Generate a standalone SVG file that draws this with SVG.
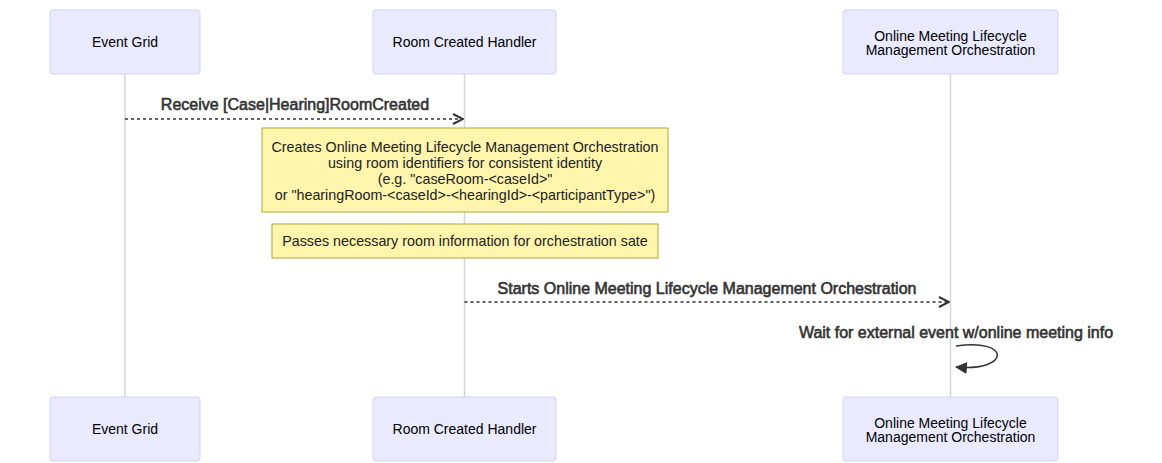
<svg xmlns="http://www.w3.org/2000/svg" width="1162" height="463" viewBox="0 0 1162 463">
<style>
.actor{fill:#eaeaff;stroke:#d3d3f5;stroke-width:1}
.atext{font-family:"Liberation Sans",Arial,sans-serif;font-size:14px;fill:#000;text-anchor:middle}
.life{stroke:#d6d6d6;stroke-width:1.5}
.msg{stroke:#333;stroke-width:1.5;fill:none;stroke-dasharray:3,3}
.mtext{font-family:"Liberation Sans",Arial,sans-serif;font-size:16px;fill:#333;stroke:#333;stroke-width:0.6;text-anchor:middle}
.note{fill:#fff5ad;stroke:#aaaa33;stroke-width:1}
.ntext{font-family:"Liberation Sans",Arial,sans-serif;font-size:14.3px;fill:#222;text-anchor:middle}
</style>
<defs>
<marker id="arrow" viewBox="0 0 12 12" refX="11" refY="6" markerWidth="12" markerHeight="12" markerUnits="userSpaceOnUse" orient="auto">
<path d="M1,1 L11,6 L1,11" fill="none" stroke="#333" stroke-width="2"/>
</marker>
<marker id="solidarrow" viewBox="0 0 12 12" refX="11" refY="6" markerWidth="12" markerHeight="12" markerUnits="userSpaceOnUse" orient="auto">
<path d="M0,0 L12,6 L0,12 z" fill="#333"/>
</marker>
</defs>
<rect width="1162" height="463" fill="#fff"/>
<g id="lifelines">
<line class="life" x1="125" y1="74" x2="125" y2="397"/>
<line class="life" x1="464.5" y1="74" x2="464.5" y2="397"/>
<line class="life" x1="950.5" y1="74" x2="950.5" y2="397"/>
</g>
<g id="actor-eventgrid-top">
<rect class="actor" x="50" y="10" width="150" height="64" rx="3"/>
<text class="atext" x="125" y="47">Event Grid</text>
</g>
<g id="actor-handler-top">
<rect class="actor" x="373" y="10" width="183" height="64" rx="3"/>
<text class="atext" x="464.5" y="47">Room Created Handler</text>
</g>
<g id="actor-orch-top">
<rect class="actor" x="843" y="10" width="215" height="64" rx="3"/>
<text class="atext" x="950.5" y="41">Online Meeting Lifecycle</text>
<text class="atext" x="950.5" y="55">Management Orchestration</text>
</g>
<g id="actor-eventgrid-bottom">
<rect class="actor" x="50" y="397" width="150" height="64" rx="3"/>
<text class="atext" x="125" y="434">Event Grid</text>
</g>
<g id="actor-handler-bottom">
<rect class="actor" x="373" y="397" width="183" height="64" rx="3"/>
<text class="atext" x="464.5" y="434">Room Created Handler</text>
</g>
<g id="actor-orch-bottom">
<rect class="actor" x="843" y="397" width="215" height="64" rx="3"/>
<text class="atext" x="950.5" y="428">Online Meeting Lifecycle</text>
<text class="atext" x="950.5" y="442">Management Orchestration</text>
</g>
<g id="note1">
<rect class="note" x="262" y="128" width="406" height="84"/>
<text class="ntext" x="465" y="152">Creates Online Meeting Lifecycle Management Orchestration</text>
<text class="ntext" x="465" y="168">using room identifiers for consistent identity</text>
<text class="ntext" x="465" y="184">(e.g. "caseRoom-&lt;caseId&gt;"</text>
<text class="ntext" x="465" y="200">or "hearingRoom-&lt;caseId&gt;-&lt;hearingId&gt;-&lt;participantType&gt;")</text>
</g>
<g id="note2">
<rect class="note" x="272" y="224" width="386" height="34"/>
<text class="ntext" x="465" y="246">Passes necessary room information for orchestration sate</text>
</g>
<g id="connectors">
<text class="mtext" x="295" y="110">Receive [Case|Hearing]RoomCreated</text>
<line class="msg" x1="125" y1="119" x2="463" y2="119" marker-end="url(#arrow)"/>
<text class="mtext" x="707" y="294">Starts Online Meeting Lifecycle Management Orchestration</text>
<line class="msg" x1="464.5" y1="302" x2="949" y2="302" marker-end="url(#arrow)"/>
<text class="mtext" x="956" y="338">Wait for external event w/online meeting info</text>
<path d="M956,346 C1012,338 1010,372 956,367" fill="none" stroke="#333" stroke-width="1.5" marker-end="url(#solidarrow)"/>
</g>
</svg>
